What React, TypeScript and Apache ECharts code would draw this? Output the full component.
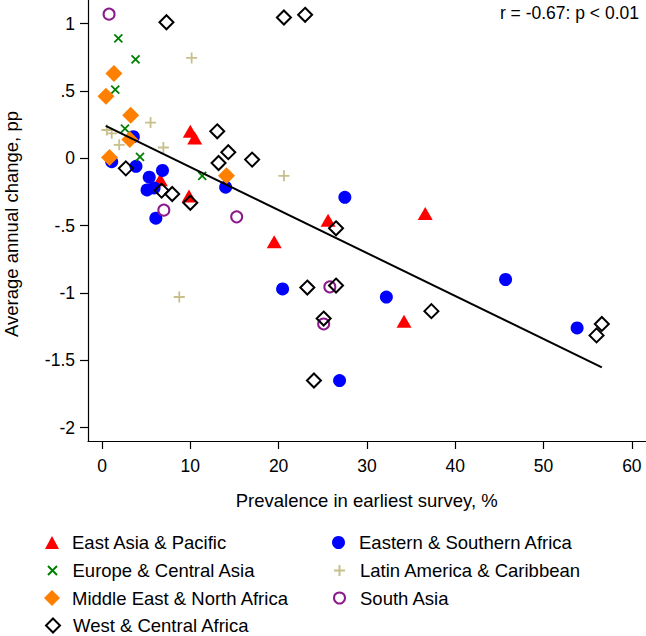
import React, { useEffect, useRef } from "react";
import * as echarts from "echarts";

// Prevalence in earliest survey (%) vs. average annual change (pp), by region
const eastAsiaPacific: number[][] = [
  [10.0, 0.2], [10.5, 0.15], [6.6, -0.16], [9.85, -0.28], [19.5, -0.62],
  [25.6, -0.46], [36.6, -0.41], [34.2, -1.21],
];
const easternSouthernAfrica: number[][] = [
  [3.55, 0.16], [1.1, -0.025], [3.85, -0.06], [6.85, -0.09], [5.35, -0.14],
  [5.1, -0.235], [5.9, -0.22], [6.1, -0.445], [14.0, -0.215], [27.5, -0.29],
  [20.45, -0.97], [32.2, -1.03], [26.9, -1.65], [45.7, -0.9], [53.8, -1.26],
];
const europeCentralAsia: number[][] = [
  [1.85, 0.89], [3.8, 0.735], [1.5, 0.51], [2.6, 0.22], [4.3, 0.01], [11.35, -0.13],
];
const latinAmericaCaribbean: number[][] = [
  [10.15, 0.745], [5.5, 0.265], [0.55, 0.21], [1.1, 0.185], [1.95, 0.1],
  [6.95, 0.08], [20.6, -0.13], [8.75, -1.03],
];
const middleEastNorthAfrica: number[][] = [
  [1.35, 0.63], [0.45, 0.46], [3.25, 0.32], [3.15, 0.14], [0.85, 0.005], [14.1, -0.13],
];
const southAsia: number[][] = [
  [0.8, 1.07], [7.0, -0.385], [15.25, -0.435], [25.8, -0.955], [25.1, -1.23],
];
const westCentralAfrica: number[][] = [
  [7.3, 1.01], [20.6, 1.045], [23.0, 1.065], [13.05, 0.2], [14.3, 0.045],
  [13.2, -0.035], [17.0, -0.01], [2.7, -0.075], [6.75, -0.24], [7.95, -0.265],
  [10.0, -0.33], [26.5, -0.52], [23.25, -0.96], [26.5, -0.945], [25.1, -1.19],
  [24.0, -1.65], [37.3, -1.135], [56.6, -1.23], [56.0, -1.315],
];

// Fitted regression line endpoints
const fitLine: number[][] = [[0.42, 0.24], [56.6, -1.552]];

const xTicks = [0, 10, 20, 30, 40, 50, 60];
const yTicks = [-2, -1.5, -1, -0.5, 0, 0.5, 1];
const statText = "r = -0.67: p < 0.01";
const xTitle = "Prevalence in earliest survey, %";
const yTitle = "Average annual change, pp";

const FONT = "'Liberation Sans', Arial, Helvetica, sans-serif";
const TICK_FS = 17.5;
const TEXT_FS = 18.5;
const CROSS = "path://M0,0L10,10M0,10L10,0";
const PLUS = "path://M5,0L5,10M0,5L10,5";

const fmtY = (v: number) => {
  if (v === 0) return "0";
  const a = Math.abs(v);
  const s = a < 1 ? String(a).replace(/^0/, "") : String(a);
  return (v < 0 ? "-" : "") + s;
};

export default function App() {
  const ref = useRef<HTMLDivElement>(null);

  useEffect(() => {
    if (!ref.current) return;
    const chart = echarts.init(ref.current, undefined, { renderer: "svg" });

    const series: any[] = [
      {
        name: "East Asia & Pacific",
        type: "scatter",
        data: eastAsiaPacific,
        symbol: "triangle",
        symbolSize: [15, 13],
        itemStyle: { color: "#ff0000", opacity: 1 },
      },
      {
        name: "Eastern & Southern Africa",
        type: "scatter",
        data: easternSouthernAfrica,
        symbol: "circle",
        symbolSize: 13,
        itemStyle: { color: "#0000ff", opacity: 1 },
      },
      {
        name: "Europe & Central Asia",
        type: "scatter",
        data: europeCentralAsia,
        symbol: CROSS,
        symbolSize: 8,
        itemStyle: { color: "#008000", borderColor: "#008000", borderWidth: 1.8, opacity: 1 },
      },
      {
        name: "Latin America & Caribbean",
        type: "scatter",
        data: latinAmericaCaribbean,
        symbol: PLUS,
        symbolSize: 11,
        itemStyle: { color: "#c8bf8a", borderColor: "#c8bf8a", borderWidth: 1.8, opacity: 1 },
      },
      {
        name: "Middle East & North Africa",
        type: "scatter",
        data: middleEastNorthAfrica,
        symbol: "diamond",
        symbolSize: 17,
        itemStyle: { color: "#ff8000", opacity: 1 },
      },
      {
        name: "South Asia",
        type: "scatter",
        data: southAsia,
        symbol: "circle",
        symbolSize: 11,
        itemStyle: { color: "transparent", borderColor: "#8b1a8b", borderWidth: 2, opacity: 1 },
      },
      {
        name: "West & Central Africa",
        type: "scatter",
        data: westCentralAfrica,
        symbol: "diamond",
        symbolSize: 14,
        itemStyle: { color: "transparent", borderColor: "#000000", borderWidth: 2, opacity: 1 },
      },
      {
        name: "fit",
        type: "line",
        data: fitLine,
        symbol: "none",
        lineStyle: { color: "#000000", width: 2 },
        z: 5,
      },
    ];

    // one legend block per entry, laid out in two columns
    const legendSpec: [string, number, number, number, number, number][] = [
      ["East Asia & Pacific", 45, 542, 14, 13, 72],
      ["Europe & Central Asia", 47, 570, 10, 9, 72],
      ["Middle East & North Africa", 44, 597.5, 16, 16, 72],
      ["West & Central Africa", 45, 625, 14, 14, 72],
      ["Eastern & Southern Africa", 332, 542, 13, 13, 359],
      ["Latin America & Caribbean", 333, 570, 11, 11, 359],
      ["South Asia", 333, 597.5, 11, 11, 359],
    ];
    const LINE_H = 18;
    const legends = legendSpec.map(([name, left, center, w, h, textLeft]) => ({
      data: [name],
      left,
      top: center - Math.max(h, LINE_H) / 2,
      orient: "vertical",
      padding: 0,
      itemWidth: w,
      itemHeight: h,
      itemGap: 0,
      itemStyle: { borderWidth: "auto" },
      textStyle: {
        fontSize: TEXT_FS,
        lineHeight: LINE_H,
        fontFamily: FONT,
        color: "#000",
        padding: [0, 0, 0, textLeft - left - w - 5],
      },
      selectedMode: false,
    }));

    chart.setOption({
      animation: false,
      backgroundColor: "#ffffff",
      textStyle: { fontFamily: FONT },
      grid: { left: 88, right: 0, top: 0, bottom: 195, containLabel: false },
      xAxis: {
        type: "value",
        min: -1.585,
        max: 61.6,
        axisLine: { show: true, onZero: false, lineStyle: { color: "#000", width: 1.2 } },
        axisTick: { show: true, customValues: xTicks, length: 8, lineStyle: { color: "#000", width: 1.2 } },
        axisLabel: {
          customValues: xTicks,
          margin: 16,
          fontSize: TICK_FS,
          color: "#000",
          fontFamily: FONT,
        },
        splitLine: { show: false },
      },
      yAxis: {
        type: "value",
        min: -2.099,
        max: 1.175,
        axisLine: { show: true, onZero: false, lineStyle: { color: "#000", width: 1.2 } },
        axisTick: { show: true, customValues: yTicks, length: 8, lineStyle: { color: "#000", width: 1.2 } },
        axisLabel: {
          customValues: yTicks,
          margin: 13,
          fontSize: TICK_FS,
          color: "#000",
          fontFamily: FONT,
          formatter: (v: number) => fmtY(v),
        },
        splitLine: { show: false },
      },
      legend: legends,
      graphic: [
        {
          type: "text",
          right: 7,
          top: 4,
          style: { text: statText, fontSize: TICK_FS, fontFamily: FONT, fill: "#000" },
        },
        {
          type: "text",
          x: 366.7,
          y: 500.7,
          style: {
            text: xTitle,
            fontSize: TEXT_FS,
            fontFamily: FONT,
            fill: "#000",
            align: "center",
            verticalAlign: "middle",
          },
        },
        {
          type: "text",
          x: 11,
          y: 224,
          rotation: Math.PI / 2,
          style: {
            text: yTitle,
            fontSize: TEXT_FS,
            fontFamily: FONT,
            fill: "#000",
            align: "center",
            verticalAlign: "middle",
          },
        },
      ],
      series,
    });

    return () => chart.dispose();
  }, []);

  return (
    <div
      ref={ref}
      style={{ position: "fixed", left: 0, top: 0, width: 646, height: 636, background: "#fff" }}
    />
  );
}
